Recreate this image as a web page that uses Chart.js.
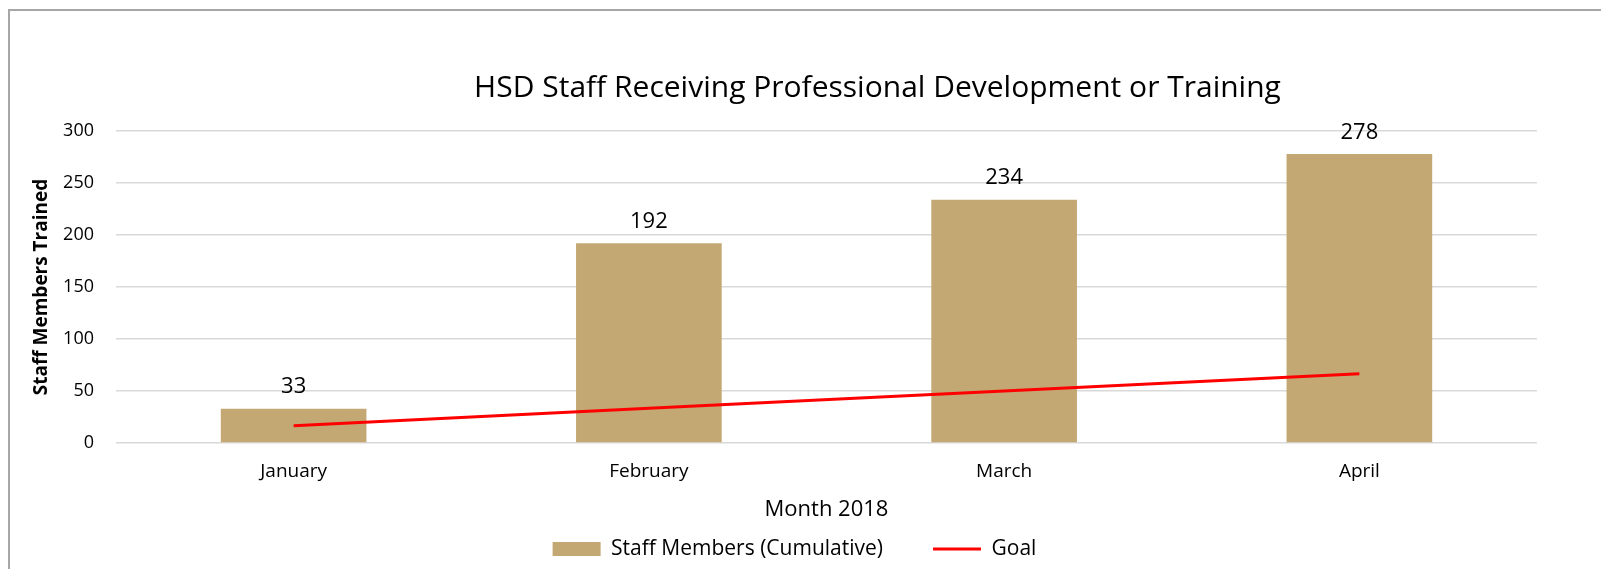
<!DOCTYPE html>
<html>
<head>
<meta charset="utf-8">
<script src="https://cdn.jsdelivr.net/npm/chart.js@4.4.1/dist/chart.umd.min.js"></script>
<style>
  html, body { margin: 0; padding: 0; background: #ffffff; overflow: hidden; }
  #wrap { position: relative; width: 1601px; height: 569px; }
  #frame { position: absolute; left: 8px; top: 9px; width: 1700px; height: 700px;
           border-left: 2px solid #a6a6a6; border-top: 2px solid #a6a6a6; }
  #c { position: absolute; left: 0; top: 0; }
</style>
</head>
<body>
<div id="wrap">
  <div id="frame"></div>
  <canvas id="c" width="1601" height="569"></canvas>
</div>
<script>
// ---- data ----
const categories = ['January', 'February', 'March', 'April'];
const staffTrained = [33, 192, 234, 278];
const goalValues = [16.7, 33.3, 50, 66.7];
const chartTitle = 'HSD Staff Receiving Professional Development or Training';
const yAxisTitle = 'Staff Members Trained';
const xAxisTitle = 'Month 2018';
const staffLabel = 'Staff Members (Cumulative)';
const goalLabel = 'Goal';
const yMin = 0, yMax = 300, yStep = 50;

// ---- styles ----
const FONT = "'Open Sans', 'Noto Sans', sans-serif";
const BAR_COLOR = '#c4a873';
const GOAL_COLOR = '#ff0000';
const GRID_COLOR = '#d9d9d9';
const TEXT_COLOR = '#000000';

const valueLabels = {
  id: 'valueLabels',
  afterDatasetsDraw(chart) {
    const meta = chart.getDatasetMeta(0);
    const ctx = chart.ctx;
    ctx.save();
    ctx.font = "22px " + FONT;
    ctx.fillStyle = TEXT_COLOR;
    ctx.textAlign = 'center';
    ctx.textBaseline = 'middle';
    meta.data.forEach((bar, i) => {
      ctx.fillText(String(staffTrained[i]), bar.x, bar.y - 21.5);
    });
    ctx.restore();
  }
};

const placeBlocks = {
  id: 'placeBlocks',
  afterLayout(chart) {
    const t = chart.titleBlock;
    if (t) { t.left += 109; t.right += 109; }
    const lg = chart.legend;
    if (lg) {
      lg.left += 26; lg.right += 26;
      lg.top -= 37.5;
      lg.bottom = chart.height;
      lg.height = lg.bottom - lg.top;
    }
  }
};

new Chart(document.getElementById('c'), {
  data: {
    labels: categories,
    datasets: [
      {
        type: 'bar',
        label: staffLabel,
        data: staffTrained,
        backgroundColor: BAR_COLOR,
        borderWidth: 0,
        categoryPercentage: 1.0,
        barPercentage: 0.41,
        order: 1
      },
      {
        type: 'line',
        label: goalLabel,
        data: goalValues,
        borderColor: GOAL_COLOR,
        backgroundColor: GOAL_COLOR,
        borderWidth: 3,
        pointRadius: 0,
        pointHoverRadius: 0,
        tension: 0,
        fill: false,
        order: 0
      }
    ]
  },
  options: {
    responsive: false,
    animation: false,
    devicePixelRatio: 1,
    layout: { padding: { left: 0, right: 64, top: 0, bottom: 0 } },
    plugins: {
      title: {
        display: true,
        text: chartTitle,
        color: TEXT_COLOR,
        font: { family: FONT, size: 30, weight: 'normal' },
        padding: { top: 70.7, bottom: 24.3 }
      },
      legend: {
        display: true,
        position: 'bottom',
        maxHeight: 43,
        labels: {
          color: TEXT_COLOR,
          font: { family: FONT, size: 21 },
          usePointStyle: true,
          pointStyleWidth: 48,
          boxHeight: 14,
          padding: 50,
          sort: (a, b) => a.datasetIndex - b.datasetIndex,
          generateLabels(chart) {
            const items = Chart.defaults.plugins.legend.labels.generateLabels(chart);
            items.forEach(it => {
              if (it.datasetIndex === 0) {
                it.pointStyle = 'rect';
                it.lineWidth = 0;
                it.fillStyle = BAR_COLOR;
                it.strokeStyle = BAR_COLOR;
              } else {
                it.pointStyle = 'line';
                it.lineWidth = 3;
                it.strokeStyle = GOAL_COLOR;
                it.fillStyle = GOAL_COLOR;
              }
            });
            return items;
          }
        }
      },
      tooltip: { enabled: false }
    },
    scales: {
      x: {
        grid: { display: false, drawTicks: false },
        border: { display: false },
        ticks: { color: TEXT_COLOR, font: { family: FONT, size: 19 }, padding: 17.5 },
        title: {
          display: true,
          text: xAxisTitle,
          color: TEXT_COLOR,
          font: { family: FONT, size: 22 },
          padding: { top: 0, bottom: 3 }
        },
        afterFit(scale) { scale.height = 83; }
      },
      y: {
        min: yMin,
        max: yMax,
        ticks: { stepSize: yStep, color: TEXT_COLOR, font: { family: FONT, size: 18 }, padding: 22 },
        grid: { color: GRID_COLOR, lineWidth: 1.5, drawTicks: false },
        border: { display: false },
        title: {
          display: true,
          text: yAxisTitle,
          color: TEXT_COLOR,
          font: { family: FONT, size: 19, weight: 'bold' },
          padding: { top: 30.5, bottom: 0 }
        },
        afterFit(scale) { scale.width = 116; }
      }
    }
  },
  plugins: [valueLabels, placeBlocks]
});
</script>
</body>
</html>
